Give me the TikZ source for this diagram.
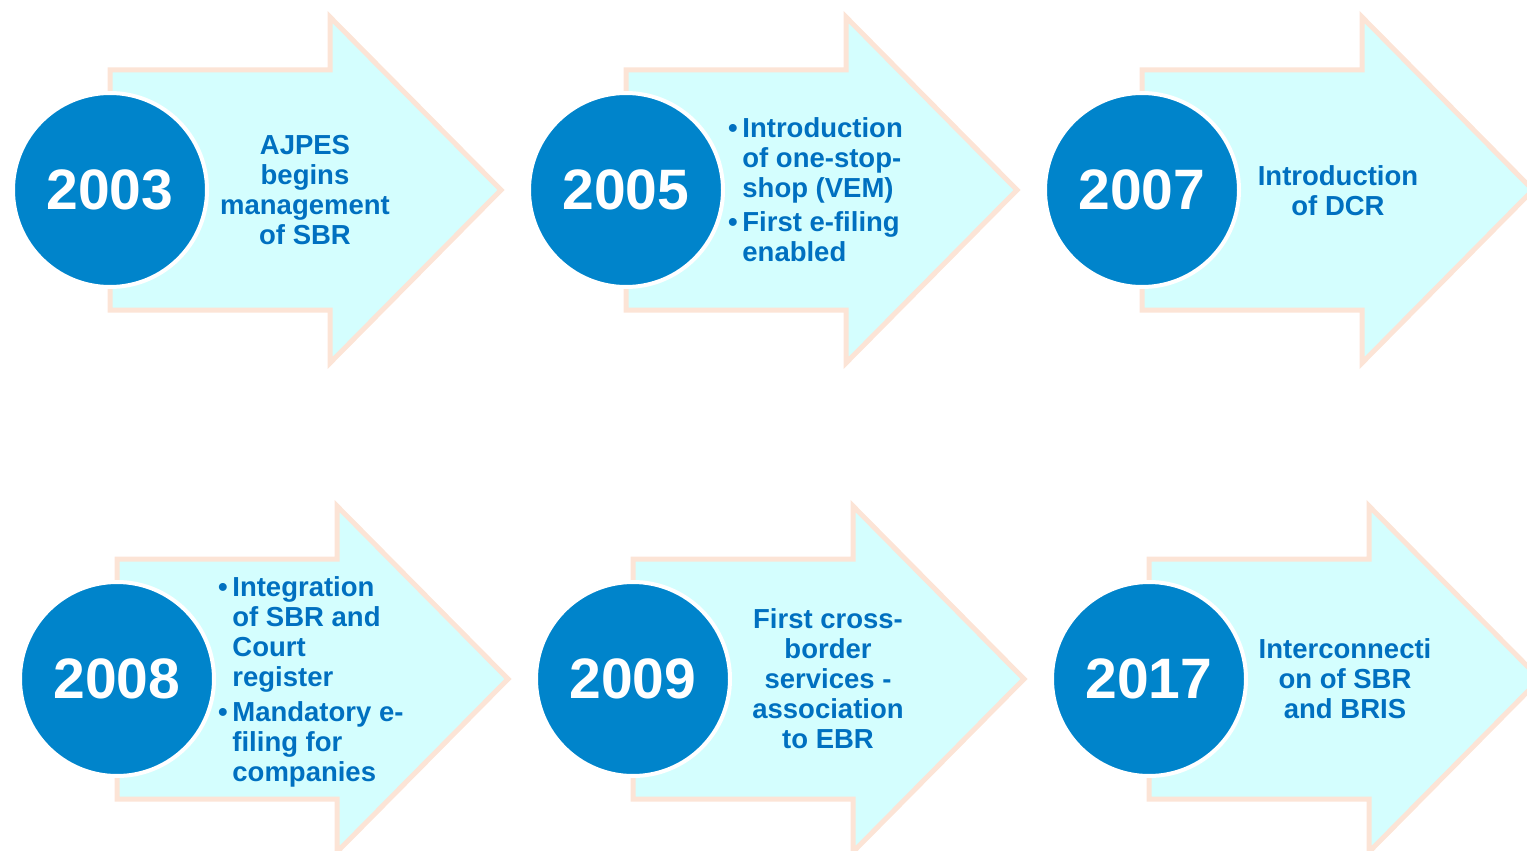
\documentclass[tikz,border=0pt]{standalone}
\usepackage{fontspec}
\setmainfont{Liberation Sans}
\usetikzlibrary{positioning}
\definecolor{yearblue}{HTML}{0084CB}
\definecolor{textblue}{HTML}{0070C0}
\definecolor{arrowfill}{HTML}{D4FEFE}
\definecolor{arrowline}{HTML}{FCE4D6}

\begin{document}
\begin{tikzpicture}[x=1pt,y=-1pt,
    arrowbox/.style={fill=arrowfill,draw=arrowline,line width=5pt,miter limit=10},
    year/.style={circle,fill=yearblue,draw=white,line width=4pt,
        minimum size=194pt,inner sep=0pt,text=white,
        font=\bfseries\fontsize{57}{57}\selectfont},
    eventtext/.style={text=textblue,font=\bfseries\fontsize{27.5}{30}\selectfont,
        align=center,inner sep=0pt},
    bullettext/.style={text=textblue,font=\bfseries\fontsize{27.5}{30}\selectfont,
        anchor=west,inner sep=0pt}]
    \useasboundingbox (0,0) rectangle (1527,851);

    % arrows and year circles
    \foreach \n/\x/\y/\yr in {a/110/190/2003, b/626/190/2005, c/1142/190/2007,
                              d/117/679/2008, e/633/679/2009, f/1149/679/2017}{
        \draw[arrowbox] (\x,\y-120) -- ++(220,0) -- ++(0,-53) -- ++(171,173)
            -- ++(-171,173) -- ++(0,-53) -- ++(-220,0) -- cycle;
        \node[year] (\n) at (\x,\y) {\yr};
    }

    % texts
    \node[eventtext] (ta) at (305,190) {AJPES\\begins\\management\\of SBR};
    \node[bullettext] (tb) at (728,193) {%
        \begin{tabular}{@{}l@{\,}l@{}}
        • & Introduction \\
          & of one-stop- \\
          & shop (VEM) \\[4pt]
        • & First e-filing \\
          & enabled
        \end{tabular}};
    \node[eventtext] (tc) at (1338,191) {Introduction\\of DCR};
    \node[bullettext] (td) at (218,683) {%
        \begin{tabular}{@{}l@{\,}l@{}}
        • & Integration \\
          & of SBR and \\
          & Court \\
          & register \\[5pt]
        • & Mandatory e- \\
          & filing for \\
          & companies
        \end{tabular}};
    \node[eventtext] (te) at (828,679) {First cross-\\border\\services -\\association\\to EBR};
    \node[eventtext] (tf) at (1345,679) {Interconnecti\\on of SBR\\and BRIS};

\end{tikzpicture}
\end{document}
